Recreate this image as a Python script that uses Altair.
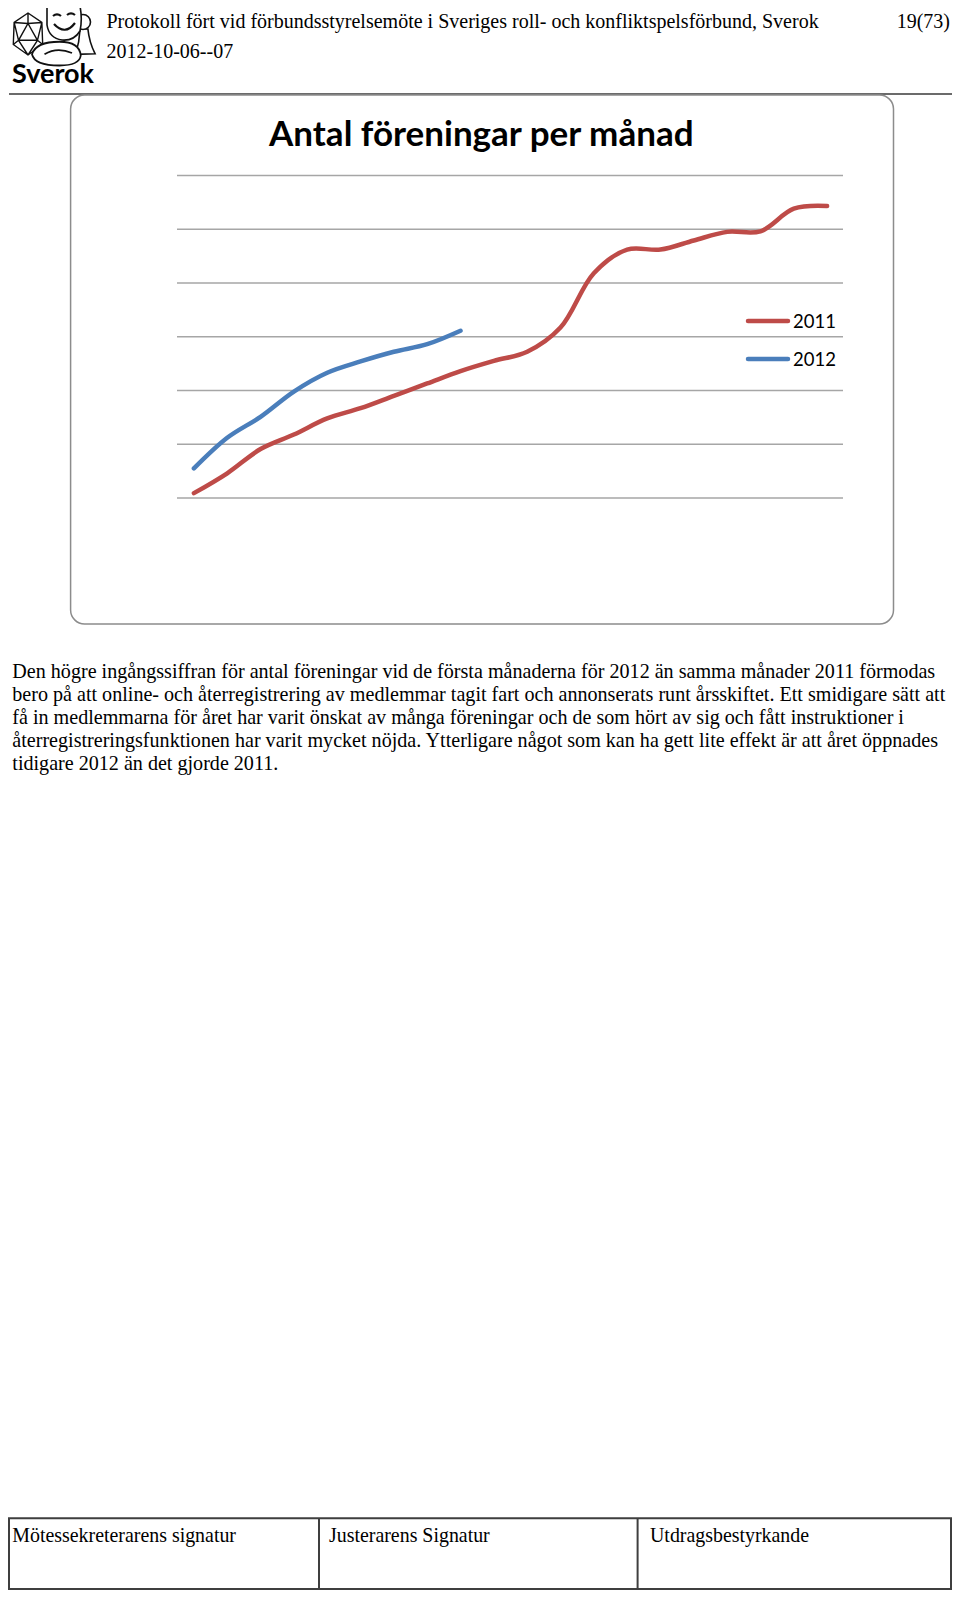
import altair as alt
import pandas as pd

# ---------------- data ----------------
TITLE = "Antal föreningar per månad"
SERIES = ["2011", "2012"]
COLORS = ["#BE4B48", "#4A7EBB"]
V2011 = [9, 46, 91, 118, 148, 167, 190, 213, 236, 255, 272, 317, 418, 462, 462, 479, 495, 496, 538, 543]
V2012 = [55, 112, 151, 198, 233, 254, 272, 286, 311]
GRID = [0, 100, 200, 300, 400, 500, 600]

HEADER_1 = "Protokoll fört vid förbundsstyrelsemöte i Sveriges roll- och konfliktspelsförbund, Sverok"
HEADER_2 = "2012-10-06--07"
PAGE_NO = "19(73)"
LOGO_TEXT = "Sverok"
PARAGRAPH = [
    "Den högre ingångssiffran för antal föreningar vid de första månaderna för 2012 än samma månader 2011 förmodas",
    "bero på att online- och återregistrering av medlemmar tagit fart och annonserats runt årsskiftet. Ett smidigare sätt att",
    "få in medlemmarna för året har varit önskat av många föreningar och de som hört av sig och fått instruktioner i",
    "återregistreringsfunktionen har varit mycket nöjda. Ytterligare något som kan ha gett lite effekt är att året öppnades",
    "tidigare 2012 än det gjorde 2011.",
]
FOOTER = ["Mötessekreterarens signatur", "Justerarens Signatur", "Utdragsbestyrkande"]

rows = []
for name, vals in zip(SERIES, [V2011, V2012]):
    for i, v in enumerate(vals):
        rows.append({"series": name, "idx": i, "value": v})
lines_df = pd.DataFrame(rows)
grid_df = pd.DataFrame({"g": GRID})

# ---------------- layout helpers (page coords -> chart coords) ----------------
M = 8
def P(v):
    return v - M

one = alt.Data(values=[{}])
SERIF = "Liberation Serif"
SANS = "Lato"

xs = alt.Scale(domain=[0, len(V2011) - 1], range=[P(193.9), P(827.1)], nice=False, zero=False)
ys = alt.Scale(domain=[GRID[0], GRID[-1]], range=[P(498), P(175.4)], nice=False)

layers = []

# header rule
layers.append(alt.Chart(one).mark_rule(color="#3a3a3a", strokeWidth=1.5).encode(
    x=alt.value(P(9)), x2=alt.value(P(952)), y=alt.value(P(94))))

# text helper
def txt(text, x, y, size, font=SERIF, align="left", weight="normal", color="#000000"):
    return alt.Chart(one).mark_text(text=text, align=align, baseline="alphabetic", font=font,
                                    fontSize=size, fontWeight=weight, color=color).encode(
        x=alt.value(P(x)), y=alt.value(P(y)))

layers.append(txt(HEADER_1, 106.5, 28, 20))
layers.append(txt(HEADER_2, 106.5, 58, 20))
layers.append(txt(PAGE_NO, 950, 28, 20, align="right"))

# simple logo drawing (d20, mask, pawn, hand)
D20 = ("M0,-1L0.66,-0.55L0.7,0.5L0,1L-0.7,0.5L-0.66,-0.55Z"
       "M0,-0.5L0.45,0.3L-0.45,0.3Z"
       "M0,-0.5L0,-1M0,-0.5L-0.66,-0.55M0,-0.5L0.66,-0.55"
       "M0.45,0.3L0.66,-0.55M0.45,0.3L0.7,0.5M0.45,0.3L0,1"
       "M-0.45,0.3L0,1M-0.45,0.3L-0.7,0.5M-0.45,0.3L-0.66,-0.55")
MASK = "M-0.85,-0.75L0.75,-0.95Q0.95,-0.2 0.8,0.5Q0.5,1 -0.1,0.95Q-0.75,0.85 -0.85,0.2Z"
FACE = "M-0.55,-0.25Q-0.35,-0.42 -0.15,-0.25M0.15,-0.3Q0.35,-0.47 0.55,-0.3M-0.5,0.15Q0.05,0.75 0.55,0.1"
PAWN = "M-0.3,-1L0.3,-1Q0.4,0 0.85,0.9L-0.65,0.95Q-0.35,0 -0.3,-1Z"
HAND = ("M-1,0.05Q-0.85,-0.45 0.1,-0.45Q0.9,-0.45 0.95,0.1Q0.9,0.5 0.1,0.5Q-0.9,0.5 -1,0.05Z"
        "M-0.5,0.05Q0,-0.25 0.6,0.0")

def sym(shape, x, y, box, fill="white", sw=1.6):
    return alt.Chart(one).mark_point(shape=shape, filled=False, fill=fill, fillOpacity=1,
                                     stroke="#111111", strokeWidth=sw, opacity=1).encode(
        x=alt.value(P(x)), y=alt.value(P(y)), size=alt.value(box * box))

layers.append(sym(D20, 28, 34, 42, sw=1.4))
layers.append(sym(PAWN, 84, 42, 26))
layers.append(sym("circle", 83, 22, 15))
layers.append(sym(MASK, 64, 21, 40))
layers.append(sym(FACE, 64, 21, 40, fill="transparent", sw=2.2))
layers.append(sym(HAND, 57, 53, 50, sw=1.8))
layers.append(txt(LOGO_TEXT, 12, 83, 27, font=SANS, weight="bold"))

# chart box
layers.append(alt.Chart(one).mark_rect(fill="white", stroke="#8C8C8C", strokeWidth=1.5, cornerRadius=14).encode(
    x=alt.value(P(70.6)), x2=alt.value(P(893.5)), y=alt.value(P(95)), y2=alt.value(P(624))))

# chart title
layers.append(txt(TITLE, 481.3, 146, 35, font=SANS, align="center", weight="bold"))

# gridlines
layers.append(alt.Chart(grid_df).mark_rule(color="#A6A6A6", strokeWidth=1.5).encode(
    y=alt.Y("g:Q", scale=ys, axis=None), x=alt.value(P(177)), x2=alt.value(P(843))))

# series lines
layers.append(alt.Chart(lines_df).mark_line(interpolate="catmull-rom", strokeWidth=4.5, strokeCap="round").encode(
    x=alt.X("idx:Q", scale=xs, axis=None),
    y=alt.Y("value:Q", scale=ys, axis=None),
    color=alt.Color("series:N", scale=alt.Scale(domain=SERIES, range=COLORS), legend=None),
    detail="series:N"))

# legend
for i, (name, col) in enumerate(zip(SERIES, COLORS)):
    yy = 321 + 38 * i
    layers.append(alt.Chart(one).mark_rule(color=col, strokeWidth=4.5, strokeCap="round").encode(
        x=alt.value(P(748)), x2=alt.value(P(788)), y=alt.value(P(yy))))
    layers.append(txt(name, 793, yy + 6.5, 18.5, font=SANS))

# paragraph
layers.append(alt.Chart(one).mark_text(text=PARAGRAPH, align="left", baseline="alphabetic", font=SERIF,
                                       fontSize=20.1, lineHeight=23, color="#000000").encode(
    x=alt.value(P(12.3)), y=alt.value(P(678))))

# footer table
TOP, BOT = 1518.3, 1589
layers.append(alt.Chart(one).mark_rect(fill="white", stroke="#3f3f3f", strokeWidth=2).encode(
    x=alt.value(P(9)), x2=alt.value(P(951)), y=alt.value(P(TOP)), y2=alt.value(P(BOT))))
for xd in [319, 637.6]:
    layers.append(alt.Chart(one).mark_rule(color="#3f3f3f", strokeWidth=2).encode(
        x=alt.value(P(xd)), y=alt.value(P(TOP)), y2=alt.value(P(BOT))))
for label, xt in zip(FOOTER, [12.3, 329, 650]):
    layers.append(txt(label, xt, 1542, 19.9))

chart = alt.layer(*layers).properties(
    width=944, height=1582, padding=0,
    autosize=alt.AutoSizeParams(type="none"),
    background="white",
).configure_view(stroke=None)

chart.save("out.html", embed_options={"renderer": "svg", "actions": False})
